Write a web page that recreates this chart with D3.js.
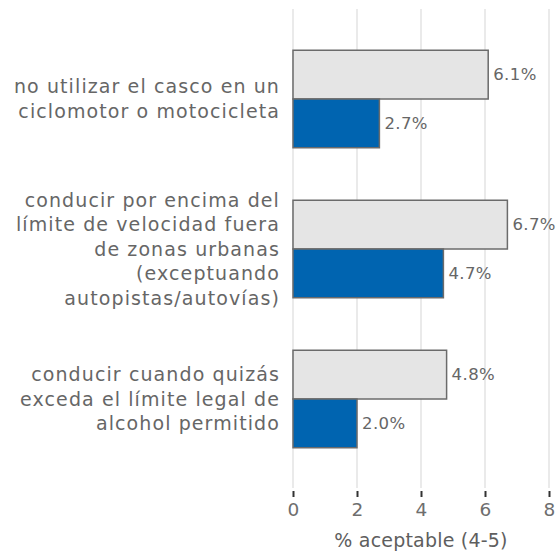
<!DOCTYPE html>
<html><head><meta charset="utf-8">
<script src="https://cdn.jsdelivr.net/npm/d3@7"></script>
<style>html,body{margin:0;padding:0;background:#fff;}svg{display:block;}</style>
</head><body>
<svg id="c" width="558" height="551"></svg>
<script>
const categories = [
  ["no utilizar el casco en un", "ciclomotor o motocicleta"],
  ["conducir por encima del", "límite de velocidad fuera", "de zonas urbanas", "(exceptuando", "autopistas/autovías)"],
  ["conducir cuando quizás", "exceda el límite legal de", "alcohol permitido"]
];
const seriesNames = ["grey", "blue"];
const greyValues = [6.1, 6.7, 4.8];
const blueValues = [2.7, 4.7, 2.0];
const xTicks = [0, 2, 4, 6, 8];
const xTitle = "% aceptable (4-5)";

const font = "'DejaVu Sans', Verdana, sans-serif";
const textColor = "#666666";
const svg = d3.select("#c");

const x = d3.scaleLinear().domain([0, 8]).range([293, 549]);
const y = d3.scaleBand().domain(d3.range(categories.length)).range([24, 474]).paddingInner(0.35).paddingOuter(0.175);
const sub = d3.scaleBand().domain(seriesNames).range([0, y.bandwidth()]);

// gridlines
svg.append("g").selectAll("line").data(xTicks).join("line")
  .attr("x1", d => x(d)).attr("x2", d => x(d))
  .attr("y1", 9).attr("y2", 488)
  .attr("stroke", "#e3e3e3").attr("stroke-width", 1.5);

// axis
const axis = d3.axisBottom(x).tickValues(xTicks).tickSize(6).tickPadding(6).tickFormat(d3.format("d"));
const ag = svg.append("g").attr("transform", "translate(0,491)").call(axis);
ag.select(".domain").remove();
ag.selectAll(".tick line").attr("stroke", "#333").attr("stroke-width", 2);
ag.selectAll(".tick text").attr("fill", "#6e6e6e").attr("font-family", font).attr("font-size", 18.5);

svg.append("text").attr("x", x(4)).attr("y", 547).attr("text-anchor", "middle")
  .attr("fill", "#5e5e5e").attr("font-family", font).attr("font-size", 19).attr("letter-spacing", 0.2).text(xTitle);

const data = categories.map((c, i) => ({i, grey: greyValues[i], blue: blueValues[i]}));
const colors = {grey: "#e5e5e5", blue: "#0064b0"};

const g = svg.append("g");
seriesNames.forEach(s => {
  g.selectAll("rect." + s).data(data).join("rect").attr("class", s)
    .attr("x", x(0)).attr("y", d => y(d.i) + sub(s))
    .attr("width", d => x(d[s]) - x(0)).attr("height", sub.bandwidth())
    .attr("fill", colors[s]).attr("stroke", "#6b6b6b").attr("stroke-width", 1.5);
  g.selectAll("text." + s).data(data).join("text").attr("class", s)
    .attr("x", d => x(d[s]) + 5).attr("y", d => y(d.i) + sub(s) + sub.bandwidth() / 2)
    .attr("dy", "0.35em").attr("fill", textColor).attr("font-family", font).attr("font-size", 16.5)
    .attr("letter-spacing", 0.4)
    .text(d => d3.format(".1f")(d[s]) + "%");
});

// category labels
const lh = 24.5;
categories.forEach((lines, i) => {
  const cy = y(i) + y.bandwidth() / 2;
  const t = svg.append("text").attr("text-anchor", "end").attr("fill", textColor)
    .attr("font-family", font).attr("font-size", 19).attr("letter-spacing", 1.1);
  lines.forEach((ln, k) => {
    t.append("tspan").attr("x", 280).attr("y", cy + (k - (lines.length - 1) / 2) * lh).attr("dy", "0.35em").text(ln);
  });
});
</script>
</body></html>
